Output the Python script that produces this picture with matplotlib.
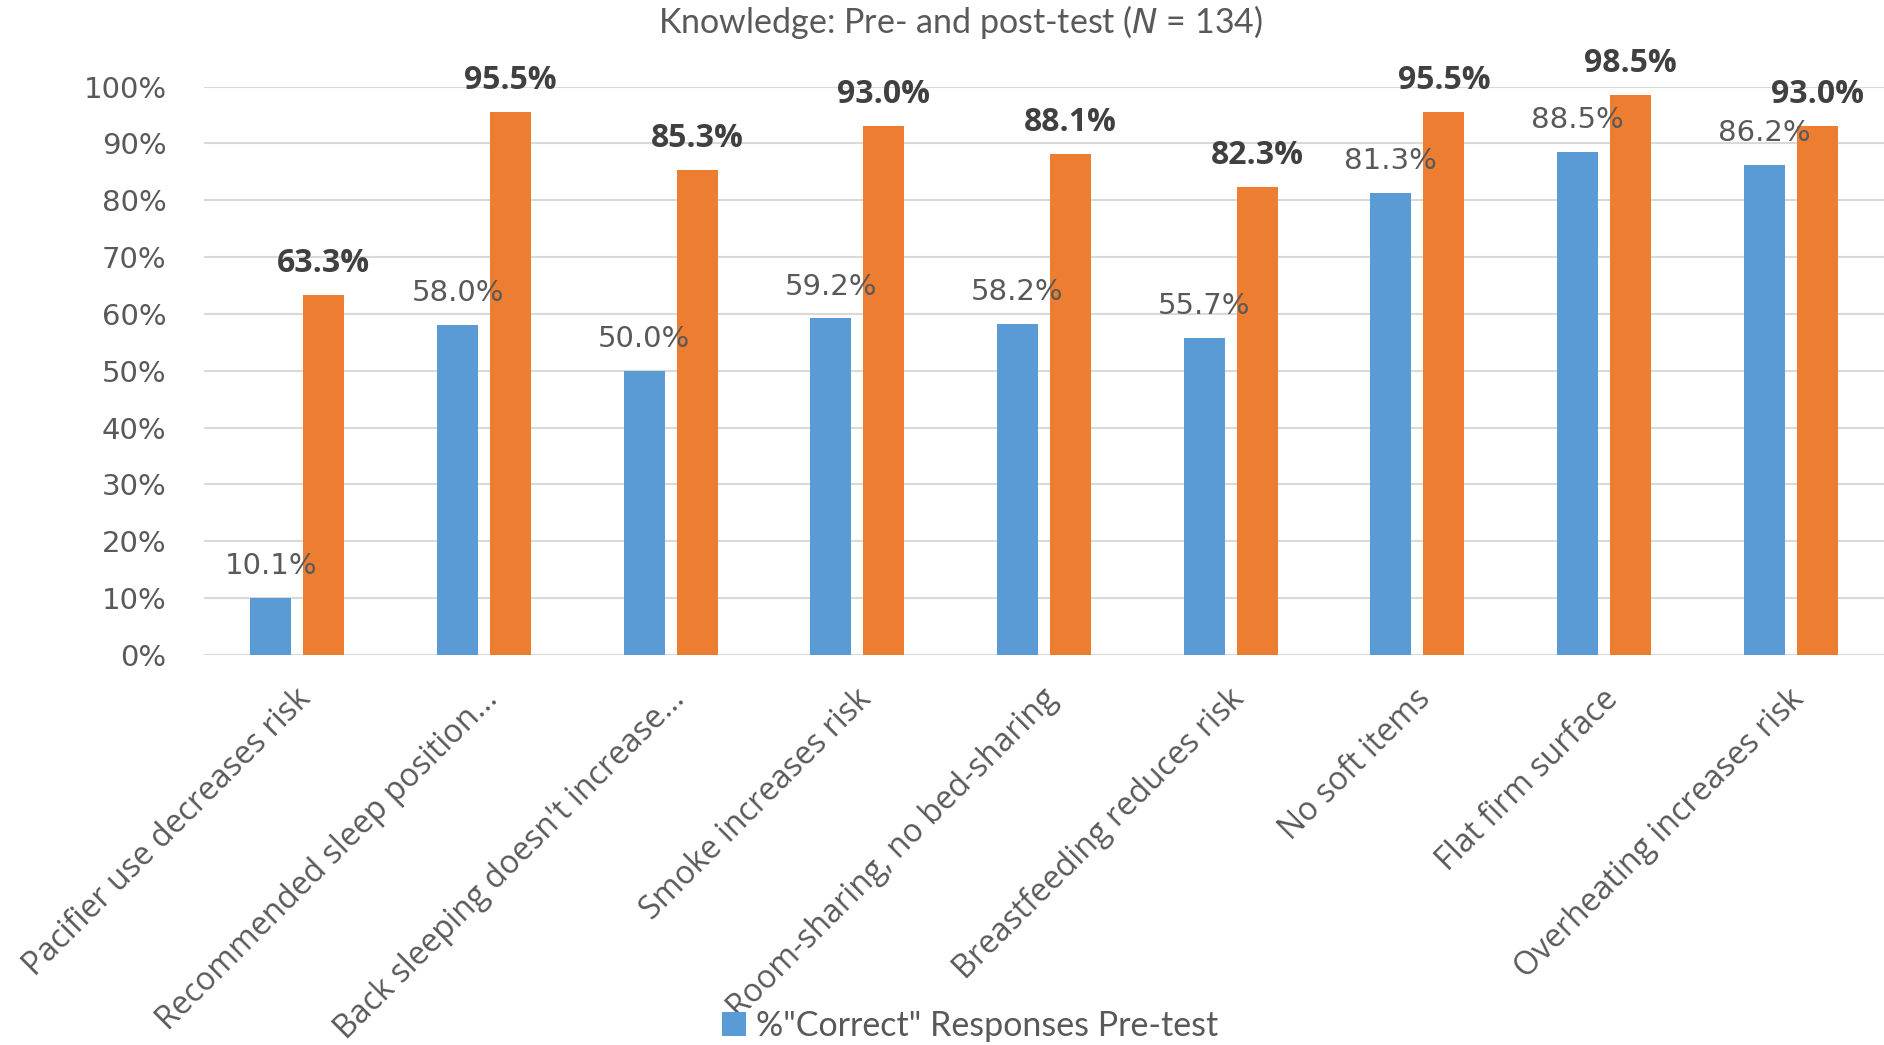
import matplotlib
matplotlib.use("Agg")
import matplotlib.pyplot as plt
from matplotlib.patches import Patch
import numpy as np

categories = [
    "Pacifier use decreases risk",
    "Recommended sleep position...",
    "Back sleeping doesn't increase...",
    "Smoke increases risk",
    "Room-sharing, no bed-sharing",
    "Breastfeeding reduces risk",
    "No soft items",
    "Flat firm surface",
    "Overheating increases risk",
]
pre_test = [10.1, 58.0, 50.0, 59.2, 58.2, 55.7, 81.3, 88.5, 86.2]
post_test = [63.3, 95.5, 85.3, 93.0, 88.1, 82.3, 95.5, 98.5, 93.0]
y_ticks = [0, 10, 20, 30, 40, 50, 60, 70, 80, 90, 100]

BLUE = "#5B9BD5"
ORANGE = "#ED7D31"
GRID = "#D9D9D9"
TEXT = "#595959"
DARK = "#404040"

fig = plt.figure(figsize=(18.84, 10.45), dpi=100)
ax = fig.add_axes([0.1083, 0.3732, 0.8917, 0.544])

x = np.arange(len(categories))
w = 0.22
off = 0.142
ax.bar(x - off, pre_test, w, color=BLUE, zorder=3)
ax.bar(x + off, post_test, w, color=ORANGE, zorder=3)

for xi, v in zip(x - off, pre_test):
    ax.annotate(f"{v:.1f}%", (xi, v), xytext=(0, 23), textcoords="offset points",
                ha="center", va="center", fontsize=21, color=TEXT,
                family="DejaVu Sans", annotation_clip=False, zorder=4)
for xi, v in zip(x + off, post_test):
    ax.annotate(f"{v:.1f}%", (xi, v), xytext=(0, 23), textcoords="offset points",
                ha="center", va="center", fontsize=23, color=DARK,
                fontweight="bold", family="Open Sans", annotation_clip=False, zorder=4)

ax.set_xlim(-0.5, len(categories) - 0.5)
ax.set_ylim(0, 100)
ax.set_yticks(y_ticks)
ax.set_yticklabels([f"{t}%" for t in y_ticks], fontsize=21, color=TEXT, family="DejaVu Sans")
ax.yaxis.grid(True, color=GRID, linewidth=1.5, zorder=0)
ax.tick_params(axis="y", length=0, pad=27)
ax.tick_params(axis="x", length=0)
for s in ax.spines.values():
    s.set_visible(False)

ax.set_xticks(x)
ax.set_xticklabels([])
for xi, lab in zip(x, categories):
    ax.annotate(lab, (xi, 0), xytext=(-2, -20), textcoords="offset points",
                rotation=45, rotation_mode="anchor", ha="right", va="top",
                fontsize=23, color=TEXT, family="Open Sans", annotation_clip=False)

fig.text(0.51, 0.979, "Knowledge: Pre- and post-test ($\\mathit{N}$ = 134)",
         ha="center", va="center", fontsize=24.5, color=TEXT, family="Lato")

fig.legend(handles=[Patch(facecolor=BLUE)], labels=['%"Correct" Responses Pre-test'],
           loc="center", bbox_to_anchor=(0.515, 0.018), frameon=False,
           prop={"family": "Lato", "size": 24.5}, labelcolor=TEXT,
           handlelength=0.7, handleheight=0.7, handletextpad=0.3)

fig.savefig("out.png", dpi=100)
